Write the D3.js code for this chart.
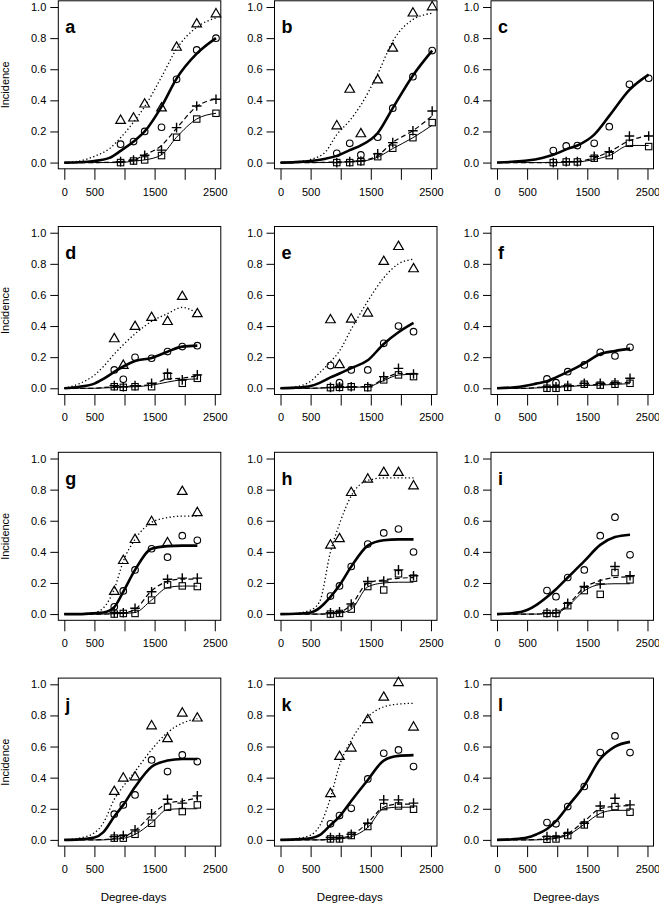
<!DOCTYPE html>
<html><head><meta charset="utf-8">
<script src="https://cdn.jsdelivr.net/npm/d3@7"></script>
<style>
body{margin:0;background:#fff}
text{font-family:"Liberation Sans",Arial,Helvetica,sans-serif;fill:#000}
</style>
</head><body>
<svg id="c" width="659" height="909"></svg>
<script>
// ---------- DATA ----------
const panelLetters = ["a","b","c","d","e","f","g","h","i","j","k","l"];
const xObsRow1 = [935,1150,1335,1615,1865,2200,2520];
const xObsRest = [830,980,1175,1450,1715,1960,2210];
const xFitRow1 = [0,250,500,750,935,1150,1335,1615,1865,2200,2520];
const xFitRest = [0,250,500,650,830,980,1175,1450,1715,1960,2210];
const xTicks = [0,500,1000,1500,2000,2500];
const xTickLabels = ["0","500","","1500","","2500"];
const yTicks = [0,0.2,0.4,0.6,0.8,1.0];
const yTickLabels = ["0.0","0.2","0.4","0.6","0.8","1.0"];

// observed incidence (triangles, circles, plus, squares), one row per panel a..l
const triObs = [
  [0.27,0.285,0.375,0.35,0.74,0.89,0.955],
  [0.235,0.47,0.184,0.53,0.734,0.96,1.0],
  null,
  [0.317,0.146,0.396,0.454,0.428,0.589,0.478],
  [0.439,0.15,0.443,0.482,0.814,0.91,0.767],
  null,
  [0.144,0.343,0.478,0.593,0.457,0.787,0.651],
  [0.442,0.483,0.78,0.866,0.909,0.909,0.823],
  null,
  [0.31,0.396,0.403,0.732,0.649,0.814,0.782],
  [0.296,0.535,0.589,0.771,0.916,1.01,0.724],
  null
];
const cirObs = [
  [0.118,0.135,0.20,0.227,0.535,0.724,0.80],
  [0.06,0.124,0.049,0.163,0.35,0.552,0.72],
  [0.077,0.107,0.109,0.124,0.231,0.503,0.542],
  [0.118,0.058,0.199,0.193,0.236,0.268,0.274],
  [0.146,0.036,0.118,0.118,0.289,0.40,0.364],
  [0.06,0.036,0.107,0.15,0.231,0.208,0.263],
  [0.047,0.149,0.284,0.42,0.366,0.504,0.474],
  [0.116,0.181,0.306,0.45,0.522,0.547,0.399],
  [0.151,0.112,0.235,0.284,0.504,0.623,0.381],
  [0.165,0.225,0.289,0.514,0.439,0.546,0.503],
  [0.103,0.156,0.203,0.392,0.557,0.578,0.471],
  [0.111,0.103,0.214,0.343,0.561,0.668,0.561]
];
const plusObs = [
  [0.006,0.017,0.047,0.08,0.225,0.364,0.407],
  [0.0,0.006,0.01,0.056,0.128,0.205,0.332],
  [0.0,0.006,0.006,0.04,0.07,0.171,0.171],
  [0.017,0.01,0.017,0.032,0.096,0.054,0.086],
  [0.006,0.01,0.01,0.01,0.075,0.128,0.092],
  [0.01,0.01,0.017,0.032,0.032,0.036,0.064],
  [0.009,0.009,0.037,0.144,0.224,0.231,0.231],
  [0.009,0.015,0.065,0.209,0.213,0.284,0.246],
  [0.009,0.009,0.069,0.177,0.194,0.306,0.246],
  [0.021,0.028,0.064,0.167,0.261,0.236,0.283],
  [0.015,0.015,0.036,0.107,0.257,0.257,0.236],
  [0.021,0.021,0.043,0.107,0.218,0.268,0.225]
];
const sqObs = [
  [0.0,0.01,0.017,0.045,0.163,0.28,0.317],
  [0.0,0.0,0.006,0.038,0.092,0.16,0.257],
  [0.0,0.004,0.004,0.028,0.045,0.124,0.103],
  [0.01,0.006,0.01,0.01,0.079,0.032,0.064],
  [0.004,0.006,0.01,0.004,0.054,0.086,0.075],
  [0.0,0.0,0.006,0.026,0.02,0.026,0.032],
  [0.0,0.004,0.004,0.09,0.188,0.181,0.177],
  [0.0,0.004,0.032,0.177,0.155,0.259,0.231],
  [0.004,0.004,0.054,0.151,0.127,0.267,0.22],
  [0.011,0.011,0.036,0.107,0.21,0.182,0.225],
  [0.006,0.006,0.028,0.086,0.214,0.218,0.197],
  [0.004,0.006,0.028,0.096,0.167,0.214,0.178]
];

// fitted curves (dotted, thick, dashed, thin)
const triFit = [
  [0,0.01,0.04,0.09,0.16,0.26,0.36,0.55,0.73,0.87,0.93],
  [0,0.005,0.02,0.07,0.18,0.27,0.37,0.57,0.78,0.92,0.96],
  null,
  [0,0.03,0.085,0.14,0.22,0.28,0.35,0.43,0.48,0.52,0.48],
  [0,0.01,0.045,0.10,0.17,0.24,0.38,0.56,0.71,0.80,0.83],
  null,
  [0,0.002,0.01,0.04,0.16,0.34,0.48,0.59,0.62,0.63,0.63],
  [0,0.005,0.026,0.08,0.40,0.58,0.76,0.86,0.875,0.875,0.875],
  null,
  [0,0.012,0.045,0.11,0.26,0.345,0.44,0.58,0.69,0.75,0.78],
  [0,0.008,0.03,0.09,0.27,0.48,0.64,0.79,0.855,0.873,0.878],
  null
];
const cirFit = [
  [0,0.002,0.01,0.03,0.075,0.135,0.20,0.36,0.54,0.70,0.80],
  [0,0.003,0.01,0.025,0.043,0.08,0.11,0.19,0.35,0.56,0.72],
  [0,0.005,0.013,0.03,0.05,0.085,0.11,0.18,0.30,0.467,0.565],
  [0,0.01,0.03,0.06,0.105,0.14,0.175,0.195,0.235,0.268,0.274],
  [0,0.004,0.015,0.035,0.07,0.095,0.13,0.18,0.285,0.36,0.42],
  [0,0.005,0.018,0.03,0.045,0.07,0.105,0.16,0.22,0.24,0.255],
  [0,0,0.005,0.01,0.045,0.144,0.284,0.42,0.437,0.44,0.44],
  [0,0.002,0.01,0.04,0.11,0.185,0.305,0.44,0.475,0.48,0.48],
  [0,0.005,0.026,0.058,0.11,0.16,0.235,0.34,0.445,0.495,0.51],
  [0,0.003,0.015,0.05,0.15,0.225,0.34,0.47,0.51,0.52,0.52],
  [0,0.003,0.01,0.03,0.095,0.15,0.25,0.385,0.51,0.54,0.545],
  [0,0.004,0.015,0.035,0.07,0.12,0.215,0.35,0.52,0.60,0.63]
];
const plusFit = [
  [0,0,0,0.002,0.006,0.017,0.05,0.11,0.22,0.36,0.41],
  [0,0,0,0.002,0.005,0.008,0.012,0.045,0.13,0.205,0.30],
  [0,0,0,0,0.002,0.005,0.008,0.03,0.07,0.14,0.175],
  [0,0,0,0.005,0.01,0.012,0.015,0.025,0.06,0.065,0.08],
  [0,0,0,0.002,0.005,0.006,0.008,0.012,0.06,0.095,0.095],
  [0,0,0,0.005,0.01,0.012,0.015,0.02,0.025,0.03,0.04],
  [0,0,0,0,0.005,0.008,0.03,0.15,0.21,0.225,0.225],
  [0,0,0,0,0.005,0.012,0.06,0.20,0.22,0.23,0.235],
  [0,0,0,0,0.005,0.01,0.06,0.17,0.215,0.235,0.24],
  [0,0,0,0.002,0.01,0.02,0.06,0.16,0.235,0.25,0.27],
  [0,0,0,0,0.005,0.01,0.03,0.11,0.21,0.23,0.23],
  [0,0,0,0.002,0.008,0.015,0.04,0.12,0.20,0.215,0.22]
];
const sqFit = [
  [0,0,0,0,0,0.01,0.017,0.05,0.163,0.28,0.317],
  [0,0,0,0,0.002,0.004,0.008,0.035,0.09,0.16,0.24],
  [0,0,0,0,0,0.002,0.004,0.02,0.045,0.11,0.11],
  [0,0,0,0.002,0.005,0.008,0.01,0.02,0.04,0.055,0.06],
  [0,0,0,0.001,0.003,0.004,0.006,0.01,0.05,0.085,0.09],
  [0,0,0,0.002,0.005,0.006,0.01,0.018,0.02,0.025,0.03],
  [0,0,0,0,0.002,0.004,0.01,0.09,0.17,0.18,0.18],
  [0,0,0,0,0.002,0.006,0.03,0.175,0.20,0.205,0.205],
  [0,0,0,0,0.003,0.006,0.05,0.15,0.19,0.195,0.195],
  [0,0,0,0,0.005,0.01,0.035,0.11,0.195,0.20,0.20],
  [0,0,0,0,0.003,0.006,0.02,0.08,0.20,0.21,0.21],
  [0,0,0,0,0.004,0.01,0.03,0.10,0.17,0.19,0.19]
];

// ---------- LAYOUT ----------
const svg = d3.select("#c");
const colLeft = [58.3, 274.5, 491.0];
const rowTop = [0.8, 226.5, 452.3, 678.1];
const W = 162.5, H = 168;

const line = d3.line().curve(d3.curveMonotoneX);

panelLetters.forEach((letter, i) => {
  const row = Math.floor(i / 3), col = i % 3;
  const L = colLeft[col], T = rowTop[row];
  const x = d3.scaleLinear().domain([-100, 2600]).range([L, L + W]);
  const y = d3.scaleLinear().domain([-0.04, 1.04]).range([T + H, T]);
  const g = svg.append("g");
  const xo = row === 0 ? xObsRow1 : xObsRest;
  const xf = row === 0 ? xFitRow1 : xFitRest;
  line.x(d => x(d[0])).y(d => y(d[1]));

  // box
  g.append("rect").attr("x", L).attr("y", T).attr("width", W).attr("height", H)
    .attr("fill", "none").attr("stroke", "#000").attr("stroke-width", 1);

  // axes
  const ya = d3.axisLeft(y).tickValues(yTicks).tickSize(8).tickPadding(4)
    .tickFormat((d, k) => yTickLabels[k]);
  const yg = g.append("g").attr("transform", `translate(${L},0)`).call(ya);
  const xa = d3.axisBottom(x).tickValues(xTicks).tickSize(11).tickPadding(8)
    .tickFormat((d, k) => xTickLabels[k]);
  const xg = g.append("g").attr("transform", `translate(0,${T + H})`).call(xa);
  [yg, xg].forEach(a => {
    a.select(".domain").remove();
    a.selectAll("text").attr("font-size", 11).attr("font-family", '"Liberation Sans",Arial,sans-serif').attr("fill", "#000");
    a.selectAll("line").attr("stroke", "#000");
  });

  // curves
  const curves = [
    [triFit[i], {w: 1.3, dash: "1.3,2.4"}],
    [cirFit[i], {w: 2.6, dash: null}],
    [plusFit[i], {w: 1.2, dash: "5,3"}],
    [sqFit[i], {w: 1.0, dash: null}]
  ];
  curves.forEach(([vals, st]) => {
    if (!vals) return;
    g.append("path").attr("d", line(vals.map((v, k) => [xf[k], v])))
      .attr("fill", "none").attr("stroke", "#000").attr("stroke-width", st.w)
      .attr("stroke-dasharray", st.dash).attr("stroke-linejoin", "round");
  });

  // markers
  const tri = d3.symbol(d3.symbolTriangle, 40);
  if (triObs[i]) g.selectAll(null).data(triObs[i]).join("path")
    .attr("d", tri).attr("transform", (d, k) => `translate(${x(xo[k])},${y(d)})`)
    .attr("fill", "none").attr("stroke", "#000").attr("stroke-width", 1.2);
  g.selectAll(null).data(cirObs[i]).join("circle")
    .attr("cx", (d, k) => x(xo[k])).attr("cy", d => y(d)).attr("r", 3.3)
    .attr("fill", "none").attr("stroke", "#000").attr("stroke-width", 1.1);
  g.selectAll(null).data(sqObs[i]).join("rect")
    .attr("x", (d, k) => x(xo[k]) - 3.2).attr("y", d => y(d) - 3.2).attr("width", 6.4).attr("height", 6.4)
    .attr("fill", "none").attr("stroke", "#000").attr("stroke-width", 1.1);
  g.selectAll(null).data(plusObs[i]).join("path")
    .attr("d", (d, k) => { const cx = x(xo[k]), cy = y(d); return `M${cx-4.8},${cy}H${cx+4.8}M${cx},${cy-4.8}V${cy+4.8}`; })
    .attr("stroke", "#000").attr("stroke-width", 1.4);

  // panel letter
  g.append("text").attr("x", L + 7).attr("y", T + 32.5).attr("font-size", 18)
    .attr("font-weight", "bold").text(letter);

  // axis titles
  if (col === 0) g.append("text").attr("transform", `translate(9,${T + H / 2}) rotate(-90)`)
    .attr("text-anchor", "middle").attr("font-size", 11).text("Incidence");
  if (row === 3) g.append("text").attr("x", L + W / 2 - 6).attr("y", T + H + 55)
    .attr("text-anchor", "middle").attr("font-size", 11.5).text("Degree-days");
});
</script>
</body></html>
